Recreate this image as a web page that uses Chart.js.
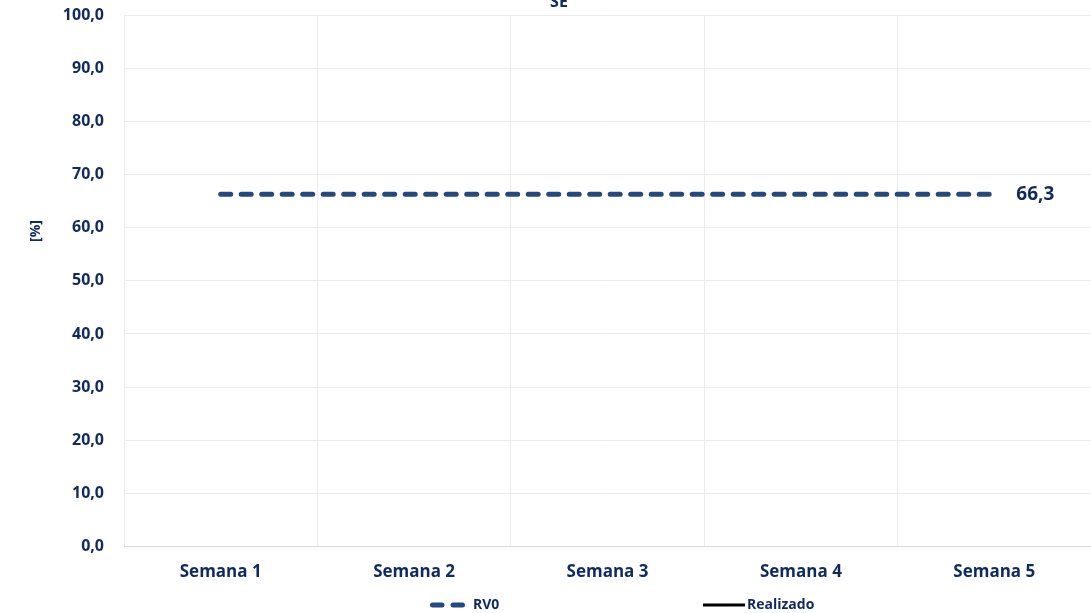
<!DOCTYPE html>
<html><head><meta charset="utf-8">
<script src="https://cdn.jsdelivr.net/npm/chart.js@4.4.1/dist/chart.umd.min.js"></script>
<style>html,body{margin:0;padding:0;background:#fff;} #wrap{position:relative;width:1091px;height:613px;}</style>
</head><body><div id="wrap"><canvas id="c" width="1091" height="613"></canvas></div>
<script>
const categories = ['Semana 1','Semana 2','Semana 3','Semana 4','Semana 5'];
const rv0Values = [66.3, 66.3, 66.3, 66.3, 66.3];
const realizadoValues = [null, null, null, null, null];
const yTickValues = [0,10,20,30,40,50,60,70,80,90,100];
const chartTitle = 'SE';
const yAxisTitle = '[%]';
const seriesNames = ['RV0', 'Realizado'];

const NAVY = '#0f2a5e';
const LINE = '#23497e';
const FONT = "'Open Sans', sans-serif";
const fmt = v => v.toFixed(1).replace('.', ',');

const extras = {
  id: 'extras',
  afterDraw(chart) {
    const ctx = chart.ctx;
    ctx.save();
    ctx.fillStyle = NAVY;
    ctx.font = 'bold 16px ' + FONT;
    ctx.textAlign = 'center';
    ctx.textBaseline = 'alphabetic';
    ctx.fillText(chartTitle, 559, 7);
    ctx.save();
    ctx.translate(36, 231);
    ctx.rotate(-Math.PI / 2);
    ctx.font = 'bold 14px ' + FONT;
    ctx.textBaseline = 'middle';
    ctx.fillText(yAxisTitle, 0, 0);
    ctx.restore();
    const meta = chart.getDatasetMeta(0);
    const last = meta.data[meta.data.length - 1];
    ctx.font = 'bold 19px ' + FONT;
    ctx.textAlign = 'left';
    ctx.textBaseline = 'middle';
    ctx.fillText(fmt(rv0Values[rv0Values.length - 1]), last.x + 22, last.y);
    const ly = 605;
    ctx.strokeStyle = LINE;
    ctx.lineWidth = 5;
    ctx.lineCap = 'round';
    ctx.setLineDash([9.5, 11]);
    ctx.beginPath(); ctx.moveTo(432.5, ly); ctx.lineTo(462.5, ly); ctx.stroke();
    ctx.setLineDash([]);
    ctx.lineCap = 'butt';
    ctx.strokeStyle = '#000';
    ctx.lineWidth = 3;
    ctx.beginPath(); ctx.moveTo(703, ly); ctx.lineTo(745, ly); ctx.stroke();
    ctx.font = 'bold 14px ' + FONT;
    ctx.fillStyle = NAVY;
    ctx.fillText(seriesNames[0], 473, ly);
    ctx.fillText(seriesNames[1], 747, ly);
    ctx.restore();
  }
};

new Chart(document.getElementById('c'), {
  type: 'line',
  data: {
    labels: categories,
    datasets: [
      { label: seriesNames[0], data: rv0Values, borderColor: LINE, backgroundColor: LINE,
        borderWidth: 5, borderDash: [10, 10.5], borderCapStyle: 'round', pointRadius: 0,
        fill: false, tension: 0 },
      { label: seriesNames[1], data: realizadoValues, borderColor: '#000', backgroundColor: '#000',
        borderWidth: 3, pointRadius: 0, fill: false }
    ]
  },
  options: {
    responsive: false,
    animation: false,
    devicePixelRatio: 1,
    layout: { autoPadding: false, padding: { top: 15, bottom: 16, left: 0, right: 0 } },
    plugins: { legend: { display: false }, title: { display: false }, tooltip: { enabled: false } },
    scales: {
      x: {
        offset: true,
        grid: { offset: true, color: '#ececec', drawTicks: false },
        border: { color: '#d9d9d9' },
        ticks: { color: NAVY, font: { family: FONT, weight: 'bold', size: 17 }, padding: 15 }
      },
      y: {
        min: 0, max: 100,
        afterFit(s) { s.width = 124; s.paddingTop = 0; s.paddingBottom = 0; },
        afterBuildTicks(s) { s.ticks = yTickValues.map(v => ({ value: v })); },
        grid: { color: '#ececec', drawTicks: false },
        border: { display: false },
        ticks: { color: NAVY, font: { family: FONT, weight: 'bold', size: 16 }, padding: 20,
                 callback: v => fmt(v) }
      }
    }
  },
  plugins: [extras]
});
</script></body></html>
